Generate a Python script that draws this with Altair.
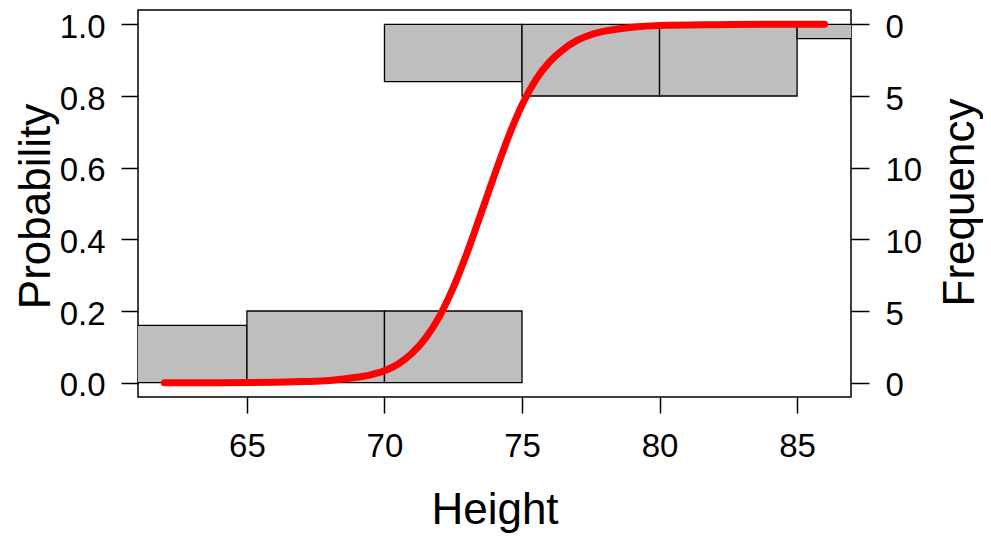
import altair as alt
import pandas as pd

# ---- data ----
bin_starts = [60, 65, 70, 75, 80, 85]
bin_width = 5
counts_zero = [4, 5, 5, 0, 0, 0]   # histogram of y = 0 cases (drawn from bottom)
counts_one = [0, 0, 4, 5, 5, 1]    # histogram of y = 1 cases (drawn from top)
freq_scale = 0.04                  # probability units per count (5 -> 0.2)

curve_x = [62, 64, 66, 67, 68, 69, 69.5, 70, 70.5, 71, 71.5, 72, 72.5, 73, 73.5,
           74, 74.5, 75, 75.5, 76, 76.5, 77, 77.5, 78, 79, 80, 82, 84, 86]
curve_p = [0.000, 0.000, 0.001, 0.003, 0.006, 0.015, 0.022, 0.033, 0.052, 0.082,
           0.125, 0.185, 0.265, 0.362, 0.470, 0.580, 0.685, 0.775, 0.845, 0.895,
           0.930, 0.955, 0.971, 0.981, 0.992, 0.997, 0.999, 1.000, 1.000]

x_ticks = [65, 70, 75, 80, 85]
y_ticks = [0.0, 0.2, 0.4, 0.6, 0.8, 1.0]

# ---- tables ----
rows = []
for s, c in zip(bin_starts, counts_zero):
    if c > 0:
        rows.append({"x0": s, "x1": s + bin_width, "y0": 0.0, "y1": c * freq_scale})
for s, c in zip(bin_starts, counts_one):
    if c > 0:
        rows.append({"x0": s, "x1": s + bin_width, "y0": 1.0, "y1": 1.0 - c * freq_scale})
bars_df = pd.DataFrame(rows)
curve_df = pd.DataFrame({"x": curve_x, "p": curve_p})

xdom = [61.04, 86.96]
ydom = [-0.04, 1.04]
W, H = 713, 387

x_axis = alt.Axis(values=x_ticks, tickSize=16, labelPadding=17, title="Height",
                  titleX=W / 2, titleY=126, titleBaseline="alphabetic",
                  titleAlign="center", grid=False)

bars = alt.Chart(bars_df).mark_rect(
    fill="#BEBEBE", stroke="black", strokeWidth=1.3, clip=True
).encode(
    x=alt.X("x0:Q", scale=alt.Scale(domain=xdom, nice=False, zero=False), axis=x_axis),
    x2="x1:Q",
    y=alt.Y("y0:Q", scale=alt.Scale(domain=ydom, nice=False, zero=False),
            axis=alt.Axis(orient="right", values=y_ticks, tickSize=18, labelPadding=16,
                          labelOffset=3,
                          labelExpr="datum.value <= 0.5 ? format(round(datum.value*25), 'd') : format(round((1-datum.value)*25), 'd')",
                          title="Frequency", titleAngle=270, titleX=122, titleY=192,
                          titleBaseline="alphabetic", titleAlign="center", grid=False)),
    y2="y1:Q",
)

line = alt.Chart(curve_df).mark_line(
    color="#FF0000", strokeWidth=7, strokeCap="round", interpolate="monotone"
).encode(
    x=alt.X("x:Q", scale=alt.Scale(domain=xdom, nice=False, zero=False), axis=x_axis),
    y=alt.Y("p:Q", scale=alt.Scale(domain=ydom, nice=False, zero=False),
            axis=alt.Axis(orient="left", values=y_ticks, format=".1f", tickSize=17,
                          labelPadding=16, labelOffset=3,
                          title="Probability", titleAngle=270, titleX=-89, titleY=196,
                          titleBaseline="alphabetic", titleAlign="center", grid=False)),
)

chart = alt.layer(bars, line).resolve_scale(y="independent").properties(
    width=W, height=H,
    background="white",
    autosize=alt.AutoSizeParams(type="none"),
    padding={"left": 130, "top": 2, "right": 132, "bottom": 136},
).configure_view(
    stroke="black", strokeWidth=1.5
).configure_axis(
    domain=False, tickColor="black", tickWidth=1.5,
    labelColor="black", labelFontSize=33, labelFont="Liberation Sans",
    titleColor="black", titleFontSize=44, titleFont="Liberation Sans",
    titleFontWeight="normal",
)

chart.save("out.html", embed_options={"renderer": "svg", "actions": False})
